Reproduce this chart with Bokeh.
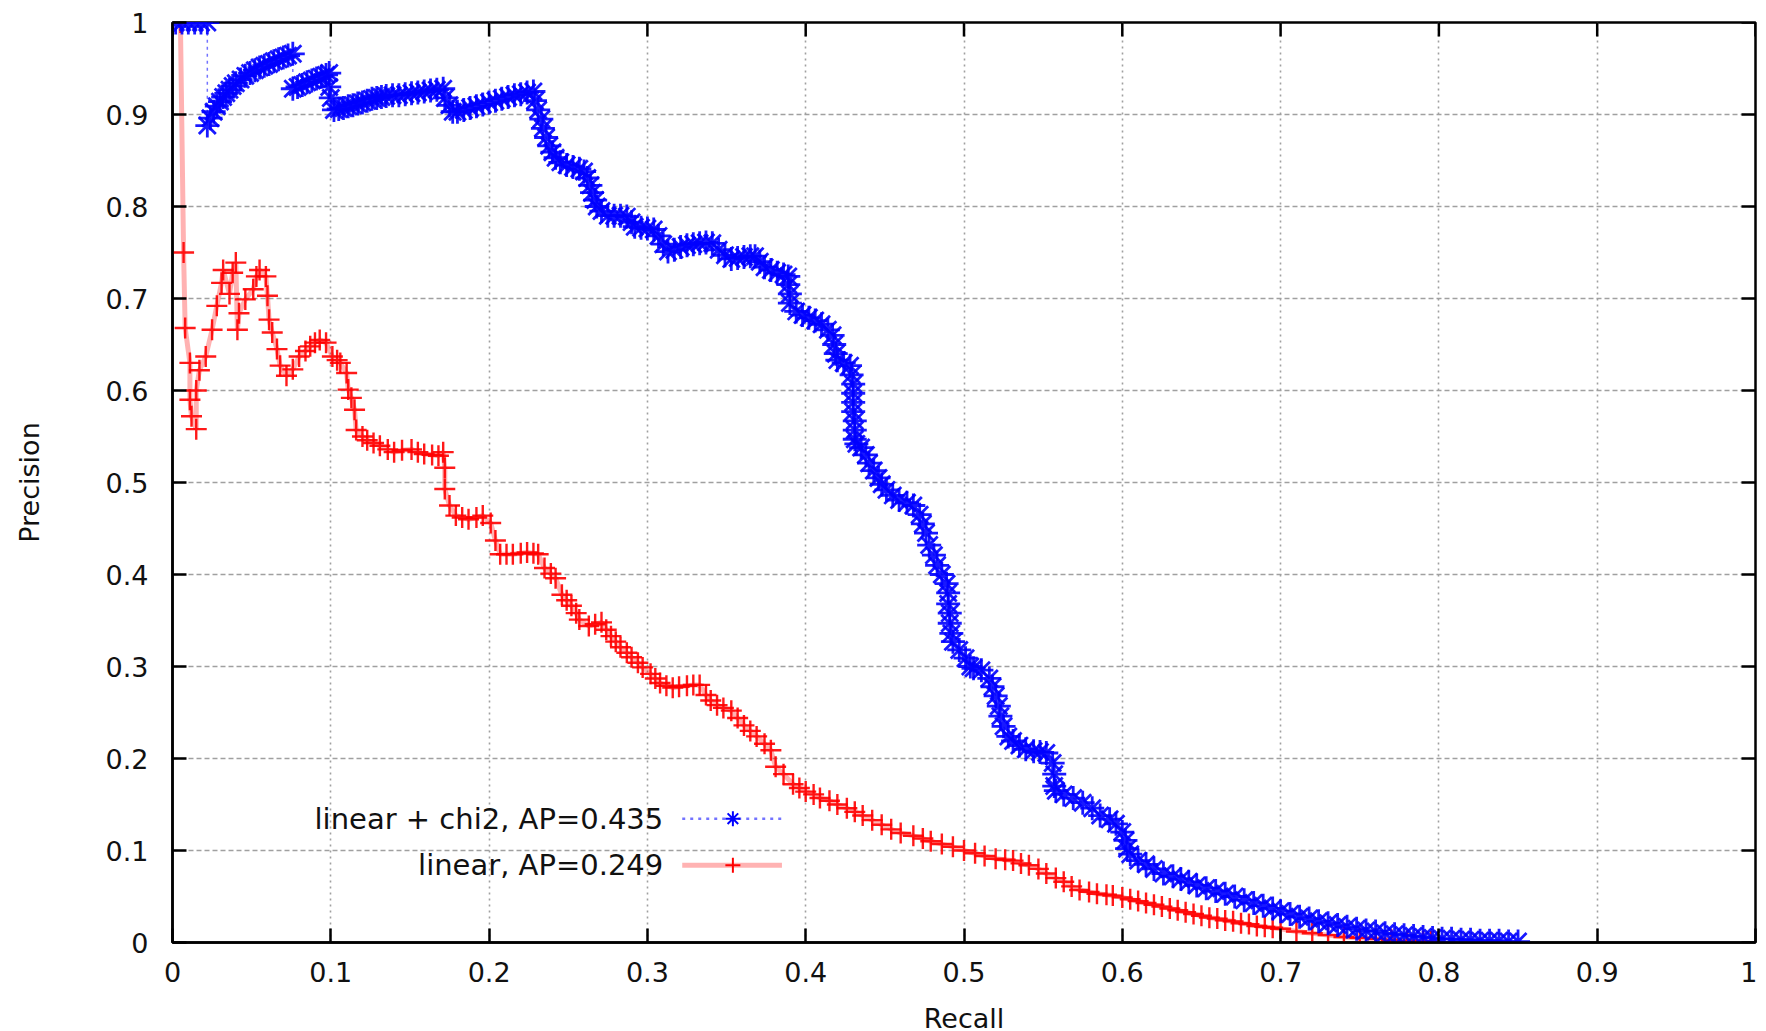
from bokeh.plotting import figure
from bokeh.models import FixedTicker, Label, Range1d
from bokeh.embed import file_html
from bokeh.resources import INLINE

# ---------------- data ----------------
series_names = ["linear + chi2, AP=0.435", "linear, AP=0.249"]

chi2_recall = [
    0.002, 0.006, 0.010, 0.014, 0.018, 0.022,
    0.022, 0.024, 0.026, 0.028, 0.030, 0.032, 0.034, 0.036, 0.038, 0.040, 0.043, 0.046, 0.049, 0.052,
    0.055, 0.058, 0.061, 0.064, 0.067, 0.070, 0.073, 0.076,
    0.076, 0.079, 0.082, 0.085, 0.088, 0.091, 0.094, 0.097, 0.099,
    0.099, 0.100, 0.102,
    0.105, 0.108, 0.111, 0.114, 0.117, 0.120, 0.123, 0.126, 0.129, 0.132, 0.135, 0.139, 0.143, 0.147,
    0.151, 0.155, 0.159, 0.163, 0.167, 0.171,
    0.172, 0.175, 0.177,
    0.180, 0.184, 0.188, 0.192, 0.196, 0.200, 0.204, 0.208, 0.212, 0.216, 0.220, 0.224, 0.228,
    0.229, 0.231, 0.233, 0.234, 0.236, 0.238, 0.240, 0.242, 0.245, 0.249, 0.253, 0.257, 0.260, 0.262,
    0.264, 0.265, 0.267, 0.268, 0.271, 0.275, 0.279, 0.283, 0.287, 0.290, 0.292, 0.296, 0.300, 0.304,
    0.307, 0.310, 0.313, 0.317, 0.321, 0.325, 0.329, 0.333, 0.337, 0.341, 0.345, 0.349, 0.353, 0.357,
    0.361, 0.365, 0.368, 0.371, 0.374, 0.378, 0.382, 0.386, 0.389, 0.389, 0.390, 0.390, 0.394, 0.398,
    0.402, 0.406, 0.410, 0.414, 0.417, 0.418, 0.419, 0.420, 0.424, 0.428, 0.429, 0.430, 0.430, 0.430,
    0.430, 0.431, 0.431, 0.431, 0.432, 0.435, 0.438, 0.440, 0.443, 0.446, 0.448, 0.451, 0.455, 0.459,
    0.464, 0.468, 0.472, 0.474, 0.476, 0.478, 0.481, 0.483, 0.486, 0.489, 0.490, 0.490, 0.491, 0.491,
    0.492, 0.493, 0.497, 0.501, 0.504, 0.506, 0.511, 0.516, 0.518, 0.520, 0.522, 0.523, 0.525, 0.528,
    0.531, 0.535, 0.539, 0.544, 0.548, 0.552, 0.556, 0.557, 0.557, 0.558, 0.563, 0.569, 0.575, 0.581,
    0.586, 0.592, 0.596, 0.600, 0.602, 0.603, 0.605, 0.610, 0.615, 0.620, 0.626, 0.632, 0.637, 0.642,
    0.647, 0.653, 0.659, 0.665, 0.671, 0.677, 0.683, 0.689, 0.695, 0.700, 0.706, 0.712, 0.718, 0.724,
    0.730, 0.736, 0.742, 0.748, 0.754, 0.760, 0.766, 0.772, 0.778, 0.784, 0.790, 0.796, 0.802, 0.808,
    0.814, 0.820, 0.826, 0.832, 0.838, 0.844, 0.850, 0.854,
]
chi2_precision = [
    1.0, 1.0, 1.0, 1.0, 1.0, 1.0,
    0.888, 0.896, 0.903, 0.909, 0.914, 0.919, 0.923, 0.927, 0.931, 0.934, 0.938, 0.942, 0.945, 0.948,
    0.951, 0.953, 0.955, 0.958, 0.960, 0.962, 0.964, 0.966,
    0.928, 0.930, 0.932, 0.935, 0.937, 0.939, 0.941, 0.943, 0.945,
    0.930, 0.918, 0.905,
    0.906, 0.907, 0.909, 0.910, 0.912, 0.913, 0.915, 0.917, 0.918, 0.919, 0.920, 0.921, 0.921, 0.922,
    0.923, 0.924, 0.925, 0.926, 0.927, 0.928,
    0.918, 0.910, 0.903,
    0.903, 0.905, 0.907, 0.909, 0.911, 0.913, 0.915, 0.917, 0.919, 0.921, 0.922, 0.924, 0.925,
    0.915, 0.905, 0.895, 0.885, 0.875, 0.866, 0.859, 0.853, 0.848, 0.845, 0.843, 0.841, 0.838, 0.831,
    0.823, 0.815, 0.807, 0.800, 0.795, 0.790, 0.790, 0.790, 0.789, 0.783, 0.778, 0.777, 0.776, 0.775,
    0.768, 0.759, 0.751, 0.753, 0.756, 0.758, 0.759, 0.760, 0.761, 0.760, 0.753, 0.747, 0.743, 0.744,
    0.745, 0.746, 0.746, 0.740, 0.734, 0.731, 0.728, 0.726, 0.724, 0.715, 0.705, 0.695, 0.686, 0.682,
    0.679, 0.676, 0.672, 0.666, 0.660, 0.650, 0.640, 0.633, 0.630, 0.627, 0.617, 0.607, 0.597, 0.587,
    0.577, 0.567, 0.557, 0.547, 0.542, 0.538, 0.530, 0.521, 0.513, 0.505, 0.498, 0.492, 0.486, 0.481,
    0.478, 0.475, 0.465, 0.455, 0.445, 0.432, 0.421, 0.410, 0.400, 0.390, 0.380, 0.368, 0.358, 0.347,
    0.336, 0.327, 0.318, 0.309, 0.300, 0.298, 0.296, 0.287, 0.278, 0.268, 0.257, 0.246, 0.235, 0.224,
    0.219, 0.214, 0.210, 0.208, 0.207, 0.206, 0.195, 0.183, 0.170, 0.165, 0.161, 0.157, 0.152, 0.146,
    0.138, 0.134, 0.129, 0.120, 0.111, 0.102, 0.096, 0.089, 0.085, 0.080, 0.075, 0.072, 0.069, 0.066,
    0.062, 0.059, 0.056, 0.053, 0.050, 0.046, 0.043, 0.040, 0.037, 0.034, 0.031, 0.028, 0.026, 0.023,
    0.021, 0.019, 0.017, 0.015, 0.013, 0.012, 0.010, 0.009, 0.008, 0.007, 0.006, 0.005, 0.004, 0.004,
    0.003, 0.003, 0.002, 0.002, 0.002, 0.001, 0.001,
]

linear_recall = [
    0.005, 0.007, 0.008, 0.011, 0.011, 0.012, 0.015, 0.015, 0.017, 0.021, 0.025, 0.028, 0.031, 0.032,
    0.036, 0.038, 0.040, 0.041, 0.042, 0.046, 0.051, 0.053, 0.055, 0.059, 0.060, 0.061, 0.063, 0.066,
    0.068, 0.072, 0.076, 0.080, 0.084, 0.087, 0.090, 0.093, 0.097, 0.101, 0.104, 0.106, 0.110, 0.111,
    0.113, 0.115, 0.116, 0.120, 0.123, 0.127, 0.131, 0.136, 0.140, 0.145, 0.151, 0.155, 0.159, 0.164,
    0.168, 0.171, 0.172, 0.172, 0.175, 0.179, 0.183, 0.187, 0.192, 0.196, 0.201, 0.204, 0.207, 0.211,
    0.215, 0.220, 0.224, 0.228, 0.231, 0.235, 0.239, 0.242, 0.246, 0.249, 0.252, 0.255, 0.257, 0.263,
    0.267, 0.271, 0.274, 0.277, 0.280, 0.283, 0.287, 0.290, 0.294, 0.297, 0.302, 0.305, 0.308, 0.312,
    0.316, 0.320, 0.325, 0.329, 0.333, 0.337, 0.340, 0.344, 0.348, 0.353, 0.357, 0.361, 0.365, 0.369,
    0.374, 0.378, 0.381, 0.386, 0.392, 0.396, 0.400, 0.405, 0.409, 0.415, 0.420, 0.426, 0.431, 0.436,
    0.442, 0.448, 0.454, 0.460, 0.468, 0.474, 0.479, 0.486, 0.493, 0.500, 0.507, 0.513, 0.520, 0.526,
    0.531, 0.536, 0.541, 0.547, 0.552, 0.558, 0.563, 0.568, 0.573, 0.579, 0.584, 0.590, 0.594, 0.600,
    0.605, 0.610, 0.615, 0.620, 0.625, 0.630, 0.635, 0.640, 0.645, 0.650, 0.655, 0.660, 0.665, 0.670,
    0.675, 0.680, 0.685, 0.690, 0.695, 0.700, 0.710, 0.720, 0.730, 0.740, 0.750, 0.760, 0.770, 0.780,
    0.790, 0.795,
]
linear_precision = [
    1.0, 0.750, 0.668, 0.630, 0.590, 0.572, 0.558, 0.600, 0.622, 0.637, 0.666, 0.692, 0.717, 0.731,
    0.705, 0.728, 0.739, 0.666, 0.684, 0.699, 0.710, 0.724, 0.731, 0.724, 0.703, 0.677, 0.663, 0.645,
    0.627, 0.616, 0.623, 0.637, 0.643, 0.648, 0.652, 0.655, 0.652, 0.637, 0.633, 0.630, 0.619, 0.601,
    0.592, 0.579, 0.557, 0.550, 0.546, 0.543, 0.540, 0.536, 0.533, 0.535, 0.536, 0.533, 0.531, 0.530,
    0.529, 0.533, 0.516, 0.493, 0.475, 0.464, 0.462, 0.460, 0.462, 0.464, 0.456, 0.437, 0.422, 0.422,
    0.422, 0.423, 0.424, 0.423, 0.422, 0.407, 0.401, 0.396, 0.378, 0.372, 0.366, 0.358, 0.351, 0.344,
    0.346, 0.348, 0.340, 0.333, 0.327, 0.321, 0.315, 0.310, 0.304, 0.299, 0.292, 0.287, 0.282, 0.279,
    0.277, 0.278, 0.279, 0.280, 0.280, 0.269, 0.263, 0.258, 0.255, 0.252, 0.244, 0.236, 0.230, 0.224,
    0.216, 0.209, 0.191, 0.183, 0.172, 0.168, 0.164, 0.161, 0.157, 0.154, 0.150, 0.146, 0.142, 0.138,
    0.133, 0.128, 0.123, 0.119, 0.116, 0.113, 0.110, 0.107, 0.104, 0.100, 0.097, 0.094, 0.091, 0.090,
    0.089, 0.086, 0.084, 0.080, 0.075, 0.070, 0.066, 0.061, 0.057, 0.055, 0.053, 0.052, 0.051, 0.049,
    0.047, 0.045, 0.043, 0.041, 0.039, 0.037, 0.035, 0.033, 0.031, 0.029, 0.027, 0.026, 0.024, 0.023,
    0.021, 0.020, 0.018, 0.017, 0.016, 0.015, 0.012, 0.010, 0.008, 0.006, 0.005, 0.004, 0.003, 0.002,
    0.001, 0.001,
]

tick_values = [0, 0.1, 0.2, 0.3, 0.4, 0.5, 0.6, 0.7, 0.8, 0.9, 1]
tick_labels = ["0", "0.1", "0.2", "0.3", "0.4", "0.5", "0.6", "0.7", "0.8", "0.9", "1"]

# ---------------- styling / layout ----------------
FONT = "DejaVu Sans"
FSIZE = "27px"
KEY_FSIZE = "29px"
BLUE = "#0000ff"
RED = "#ff0000"
FRAME_W, FRAME_H = 1583, 920
TICK_LEN = 14

p = figure(
    frame_width=FRAME_W, frame_height=FRAME_H,
    x_range=Range1d(0, 1), y_range=Range1d(0, 1),
    output_backend="svg", toolbar_location=None,
    min_border_left=172, min_border_right=2, min_border_top=22, min_border_bottom=89,
    x_axis_label="Recall", y_axis_label="Precision",
    background_fill_color="white", border_fill_color="white",
)
p.outline_line_color = "black"
p.outline_line_width = 2.5
p.outline_line_alpha = 1

overrides = {v: s for v, s in zip(tick_values, tick_labels)}

for ax in (p.xaxis[0], p.yaxis[0]):
    ax.ticker = FixedTicker(ticks=tick_values)
    ax.major_label_overrides = overrides
    ax.major_tick_in = TICK_LEN
    ax.major_tick_out = 0
    ax.minor_tick_line_color = None
    ax.major_tick_line_width = 2.5
    ax.major_tick_line_color = "black"
    ax.axis_line_width = 2.5
    ax.axis_line_color = "black"
    ax.major_label_text_font = FONT
    ax.major_label_text_font_size = FSIZE
    ax.major_label_text_color = "#111111"
    ax.axis_label_text_font = FONT
    ax.axis_label_text_font_size = FSIZE
    ax.axis_label_text_font_style = "normal"
    ax.axis_label_text_color = "#111111"

p.xaxis[0].major_label_standoff = 19
p.xaxis[0].axis_label_standoff = 18
p.yaxis[0].major_label_standoff = 24
p.yaxis[0].axis_label_standoff = 58

# mirrored inward ticks on the top and right borders
n_ticks = len(tick_values)
p.segment(x0=tick_values, y0=[1] * n_ticks, x1=tick_values, y1=[1 - TICK_LEN / FRAME_H] * n_ticks,
          line_color="black", line_width=2.5)
p.segment(x0=[1] * n_ticks, y0=tick_values, x1=[1 - TICK_LEN / FRAME_W] * n_ticks, y1=tick_values,
          line_color="black", line_width=2.5)

p.xgrid.ticker = FixedTicker(ticks=tick_values)
p.ygrid.ticker = FixedTicker(ticks=tick_values)
p.xgrid.grid_line_color = "#a0a0a0"
p.xgrid.grid_line_width = 1.6
p.xgrid.grid_line_dash = "2 4"
p.ygrid.grid_line_color = "#a0a0a0"
p.ygrid.grid_line_width = 1.4
p.ygrid.grid_line_dash = "5 3"

# linear series (red, solid pink line + plus markers)
p.line(linear_recall, linear_precision, line_color=RED, line_alpha=0.3, line_width=5)
p.scatter(linear_recall, linear_precision, marker="cross", size=21,
          line_color=RED, line_width=2.4, line_alpha=0.9)

# linear + chi2 series (blue, dotted line + star markers)
p.line(chi2_recall, chi2_precision, line_color=BLUE, line_alpha=0.55, line_width=1.5, line_dash="3 4")
p.scatter(chi2_recall, chi2_precision, marker="asterisk", size=24,
          line_color=BLUE, line_width=2.8, line_alpha=0.9)

# key (text on the left, sample on the right, as in the original)
KEY_TEXT_X = 0.310
KEY_ROW_Y = [0.1346, 0.0841]
KEY_LINE_X = [0.322, 0.385]
KEY_MARK_X = 0.354

for name, yrow in zip(series_names, KEY_ROW_Y):
    p.add_layout(Label(x=KEY_TEXT_X, y=yrow, text=name, text_align="right", text_baseline="middle",
                       text_font=FONT, text_font_size=KEY_FSIZE, text_color="#111111"))

p.line(KEY_LINE_X, [KEY_ROW_Y[0]] * 2, line_color=BLUE, line_alpha=0.55, line_width=2.5, line_dash="3 5")
p.scatter([KEY_MARK_X], [KEY_ROW_Y[0]], marker="asterisk", size=15, line_color=BLUE, line_width=2)
p.line(KEY_LINE_X, [KEY_ROW_Y[1]] * 2, line_color=RED, line_alpha=0.3, line_width=5)
p.scatter([KEY_MARK_X], [KEY_ROW_Y[1]], marker="cross", size=15, line_color=RED, line_width=2)

open("out.html", "w").write(file_html(p, INLINE))
